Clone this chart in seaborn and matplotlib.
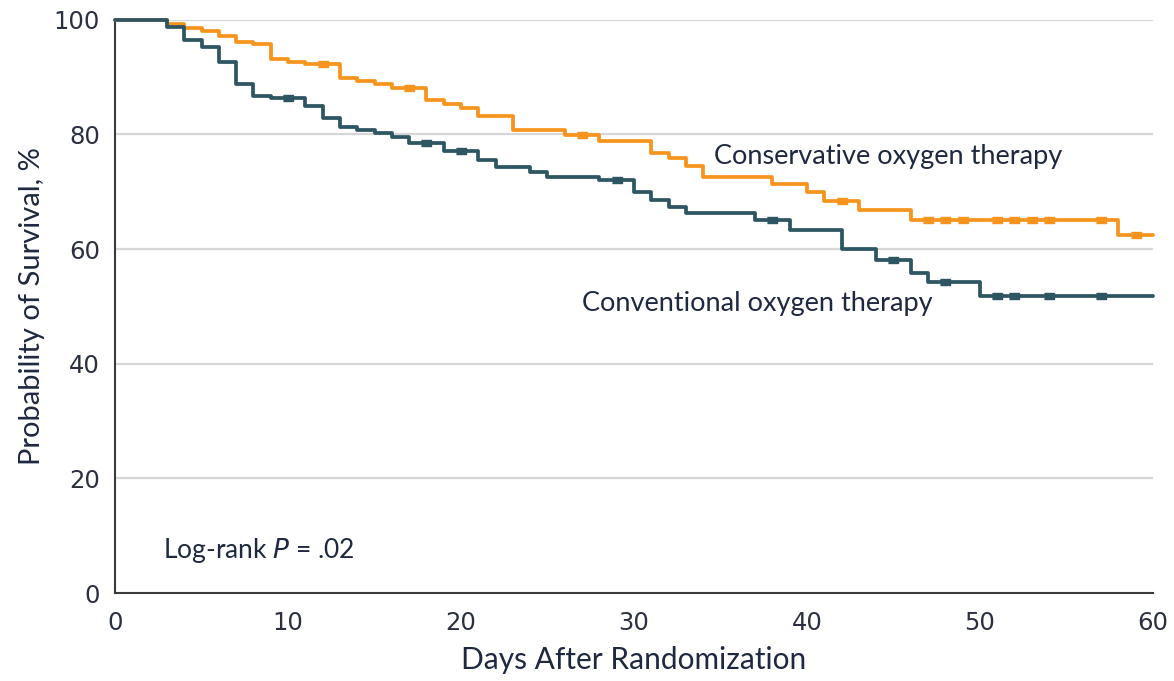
import numpy as np
import pandas as pd
import matplotlib
matplotlib.use("Agg")
import matplotlib.pyplot as plt
import seaborn as sns

# Kaplan-Meier step data (day of event, survival % after the event)
conservative_days = [0, 3, 4, 5, 6, 7, 8, 9, 10, 11, 13, 14, 15, 16, 18, 19, 20, 21,
                     23, 26, 28, 31, 32, 33, 34, 38, 40, 41, 43, 46, 58, 60]
conservative_surv = [100, 99.2, 98.5, 98.0, 97.2, 96.2, 95.8, 93.1, 92.7, 92.3, 89.8,
                     89.4, 88.8, 88.1, 86.0, 85.3, 84.6, 83.2, 80.8, 79.9, 78.9, 76.8,
                     75.9, 74.5, 72.5, 71.4, 69.9, 68.4, 66.8, 65.1, 62.5, 62.5]
conservative_censored = [12, 17, 27, 42, 47, 48, 49, 51, 52, 53, 54, 57, 59]

conventional_days = [0, 3, 4, 5, 6, 7, 8, 9, 11, 12, 13, 14, 15, 16, 17, 19, 21, 22,
                     24, 25, 28, 30, 31, 32, 33, 37, 39, 42, 44, 46, 47, 50, 60]
conventional_surv = [100, 98.7, 96.5, 95.3, 92.6, 88.8, 86.7, 86.3, 84.9, 82.8, 81.3,
                     80.7, 80.2, 79.6, 78.5, 77.1, 75.6, 74.3, 73.5, 72.5, 72.0, 69.9,
                     68.6, 67.4, 66.3, 65.0, 63.4, 60.0, 58.1, 55.9, 54.2, 51.9, 51.9]
conventional_censored = [10, 18, 20, 29, 38, 45, 48, 51, 52, 54, 57]

group_names = ["Conservative oxygen therapy", "Conventional oxygen therapy"]
group_colors = ["#F7941D", "#2D5562"]

x_ticks = [0, 10, 20, 30, 40, 50, 60]
y_ticks = [0, 20, 40, 60, 80, 100]

curves = pd.concat([
    pd.DataFrame({"day": conservative_days, "surv": conservative_surv,
                  "group": group_names[0]}),
    pd.DataFrame({"day": conventional_days, "surv": conventional_surv,
                  "group": group_names[1]}),
], ignore_index=True)


def step_value(days, surv, t):
    idx = np.searchsorted(days, t, side="right") - 1
    return np.asarray(surv)[idx]


censor = pd.concat([
    pd.DataFrame({"day": conservative_censored,
                  "surv": step_value(conservative_days, conservative_surv, conservative_censored),
                  "group": group_names[0]}),
    pd.DataFrame({"day": conventional_censored,
                  "surv": step_value(conventional_days, conventional_surv, conventional_censored),
                  "group": group_names[1]}),
], ignore_index=True)

sns.set_theme(style="white")
plt.rcParams["font.family"] = ["Lato", "DejaVu Sans"]

fig = plt.figure(figsize=(11.74, 6.81), dpi=100)
ax = fig.add_axes([0.098, 0.129, 0.884, 0.842])

palette = dict(zip(group_names, group_colors))

for y in y_ticks[1:]:
    ax.axhline(y, color="#d6d6d6", linewidth=1.6, zorder=0)

sns.lineplot(data=curves, x="day", y="surv", hue="group", palette=palette,
             drawstyle="steps-post", linewidth=2.7, estimator=None, sort=False,
             legend=False, ax=ax, zorder=3, clip_on=False)

# censoring ticks: short flat bars slightly thicker than the curve
tick_marker = [(-1, -0.62), (1, -0.62), (1, 0.62), (-1, 0.62)]
for name in group_names:
    sub = censor[censor["group"] == name]
    ax.plot(sub["day"], sub["surv"], linestyle="none", marker=tick_marker,
            markersize=7.5, color=palette[name], zorder=4, clip_on=False)

ax.set_xlim(0, 60)
ax.set_ylim(0, 100)
ax.set_xticks(x_ticks)
ax.set_yticks(y_ticks)

tick_color = "#2b3040"
for lab in ax.get_xticklabels() + ax.get_yticklabels():
    lab.set_fontfamily("DejaVu Sans")
ax.tick_params(axis="both", direction="out", length=7, width=1.4,
               color="#3a3a3a", labelsize=17.5, labelcolor=tick_color, pad=4)
ax.tick_params(axis="x", pad=6)

for side in ["top", "right"]:
    ax.spines[side].set_visible(False)
for side in ["left", "bottom"]:
    ax.spines[side].set_color("#3a3a3a")
    ax.spines[side].set_linewidth(1.5)

text_color = "#1e2840"
ax.set_xlabel("Days After Randomization", fontsize=21.5, color=text_color, labelpad=8)
ax.set_ylabel("Probability of Survival, %", fontsize=21, color=text_color, labelpad=6)

ax.text(34.6, 76.2, group_names[0], fontsize=19.5, color=text_color,
        ha="left", va="center")
ax.text(27.0, 50.5, group_names[1], fontsize=19.5, color=text_color,
        ha="left", va="center")
ax.text(2.8, 7.5, "Log-rank $\\it{P}$ = .02", fontsize=19, color=text_color,
        ha="left", va="center")

fig.savefig("out.png", dpi=100)
